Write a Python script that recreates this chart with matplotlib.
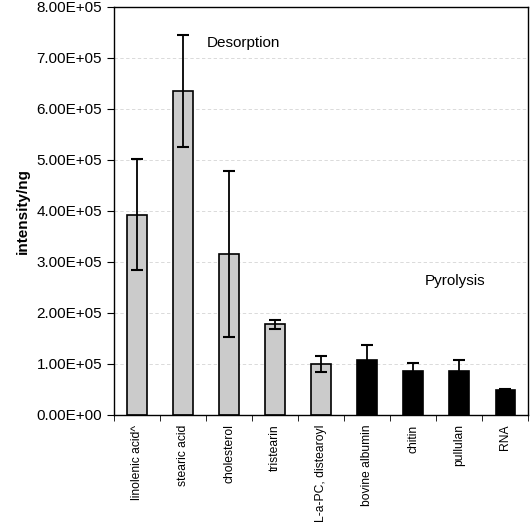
import matplotlib.pyplot as plt
import numpy as np

plt.rcParams['font.family'] = ['Liberation Sans', 'DejaVu Sans']

# compounds and their mean intensity per ng, with error bars
compounds = ['linolenic acid^', 'stearic acid', 'cholesterol', 'tristearin',
             'L-a-PC, distearoyl', 'bovine albumin', 'chitin', 'pullulan', 'RNA']
intensity = [3.92e5, 6.35e5, 3.15e5, 1.77e5, 1.00e5, 1.07e5, 0.86e5, 0.86e5, 0.49e5]
errors = [1.09e5, 1.10e5, 1.63e5, 0.09e5, 0.16e5, 0.29e5, 0.15e5, 0.22e5, 0.01e5]
method = ['d', 'd', 'd', 'd', 'd', 'p', 'p', 'p', 'p']

colors = ['#cbcbcb' if m == 'd' else 'black' for m in method]

fig = plt.figure(figsize=(5.31, 5.25), dpi=100)
ax = fig.add_axes([0.2147, 0.21, 0.78, 0.777])

x = np.arange(len(compounds))
ax.bar(x, intensity, width=0.42, color=colors, edgecolor='black', linewidth=1.2,
       zorder=2)
ax.errorbar(x, intensity, yerr=errors, fmt='none', ecolor='black', elinewidth=1.3,
            capsize=4, capthick=1.5, zorder=3)

ax.set_xlim(-0.5, len(compounds) - 0.5)
ax.set_ylim(0, 8e5)
yt = np.arange(0, 8.01e5, 1e5)
ax.set_yticks(yt)
ax.set_yticklabels([f'{v:.2E}' for v in yt], fontsize=11)
ax.yaxis.grid(True, linestyle=(0, (4, 3)), color='#d4d4d4', linewidth=0.6, zorder=0)

ax.set_xticks(x)
ax.set_xticklabels(compounds, rotation=90, fontsize=8.7)
ax.tick_params(axis='x', length=0, pad=7)
ax.set_xticks(np.arange(-0.5, len(compounds) - 0.4, 1), minor=True)
ax.tick_params(axis='x', which='minor', length=4, direction='out')
ax.tick_params(axis='y', length=5, direction='out')

for s in ax.spines.values():
    s.set_linewidth(1.0)

ax.set_ylabel('intensity/ng', fontsize=11, fontweight='bold', labelpad=5)

ax.text(1.52, 7.3e5, 'Desorption', fontsize=11, va='center')
ax.text(6.26, 2.62e5, 'Pyrolysis', fontsize=11, va='center')

fig.savefig('out.png', dpi=100)
